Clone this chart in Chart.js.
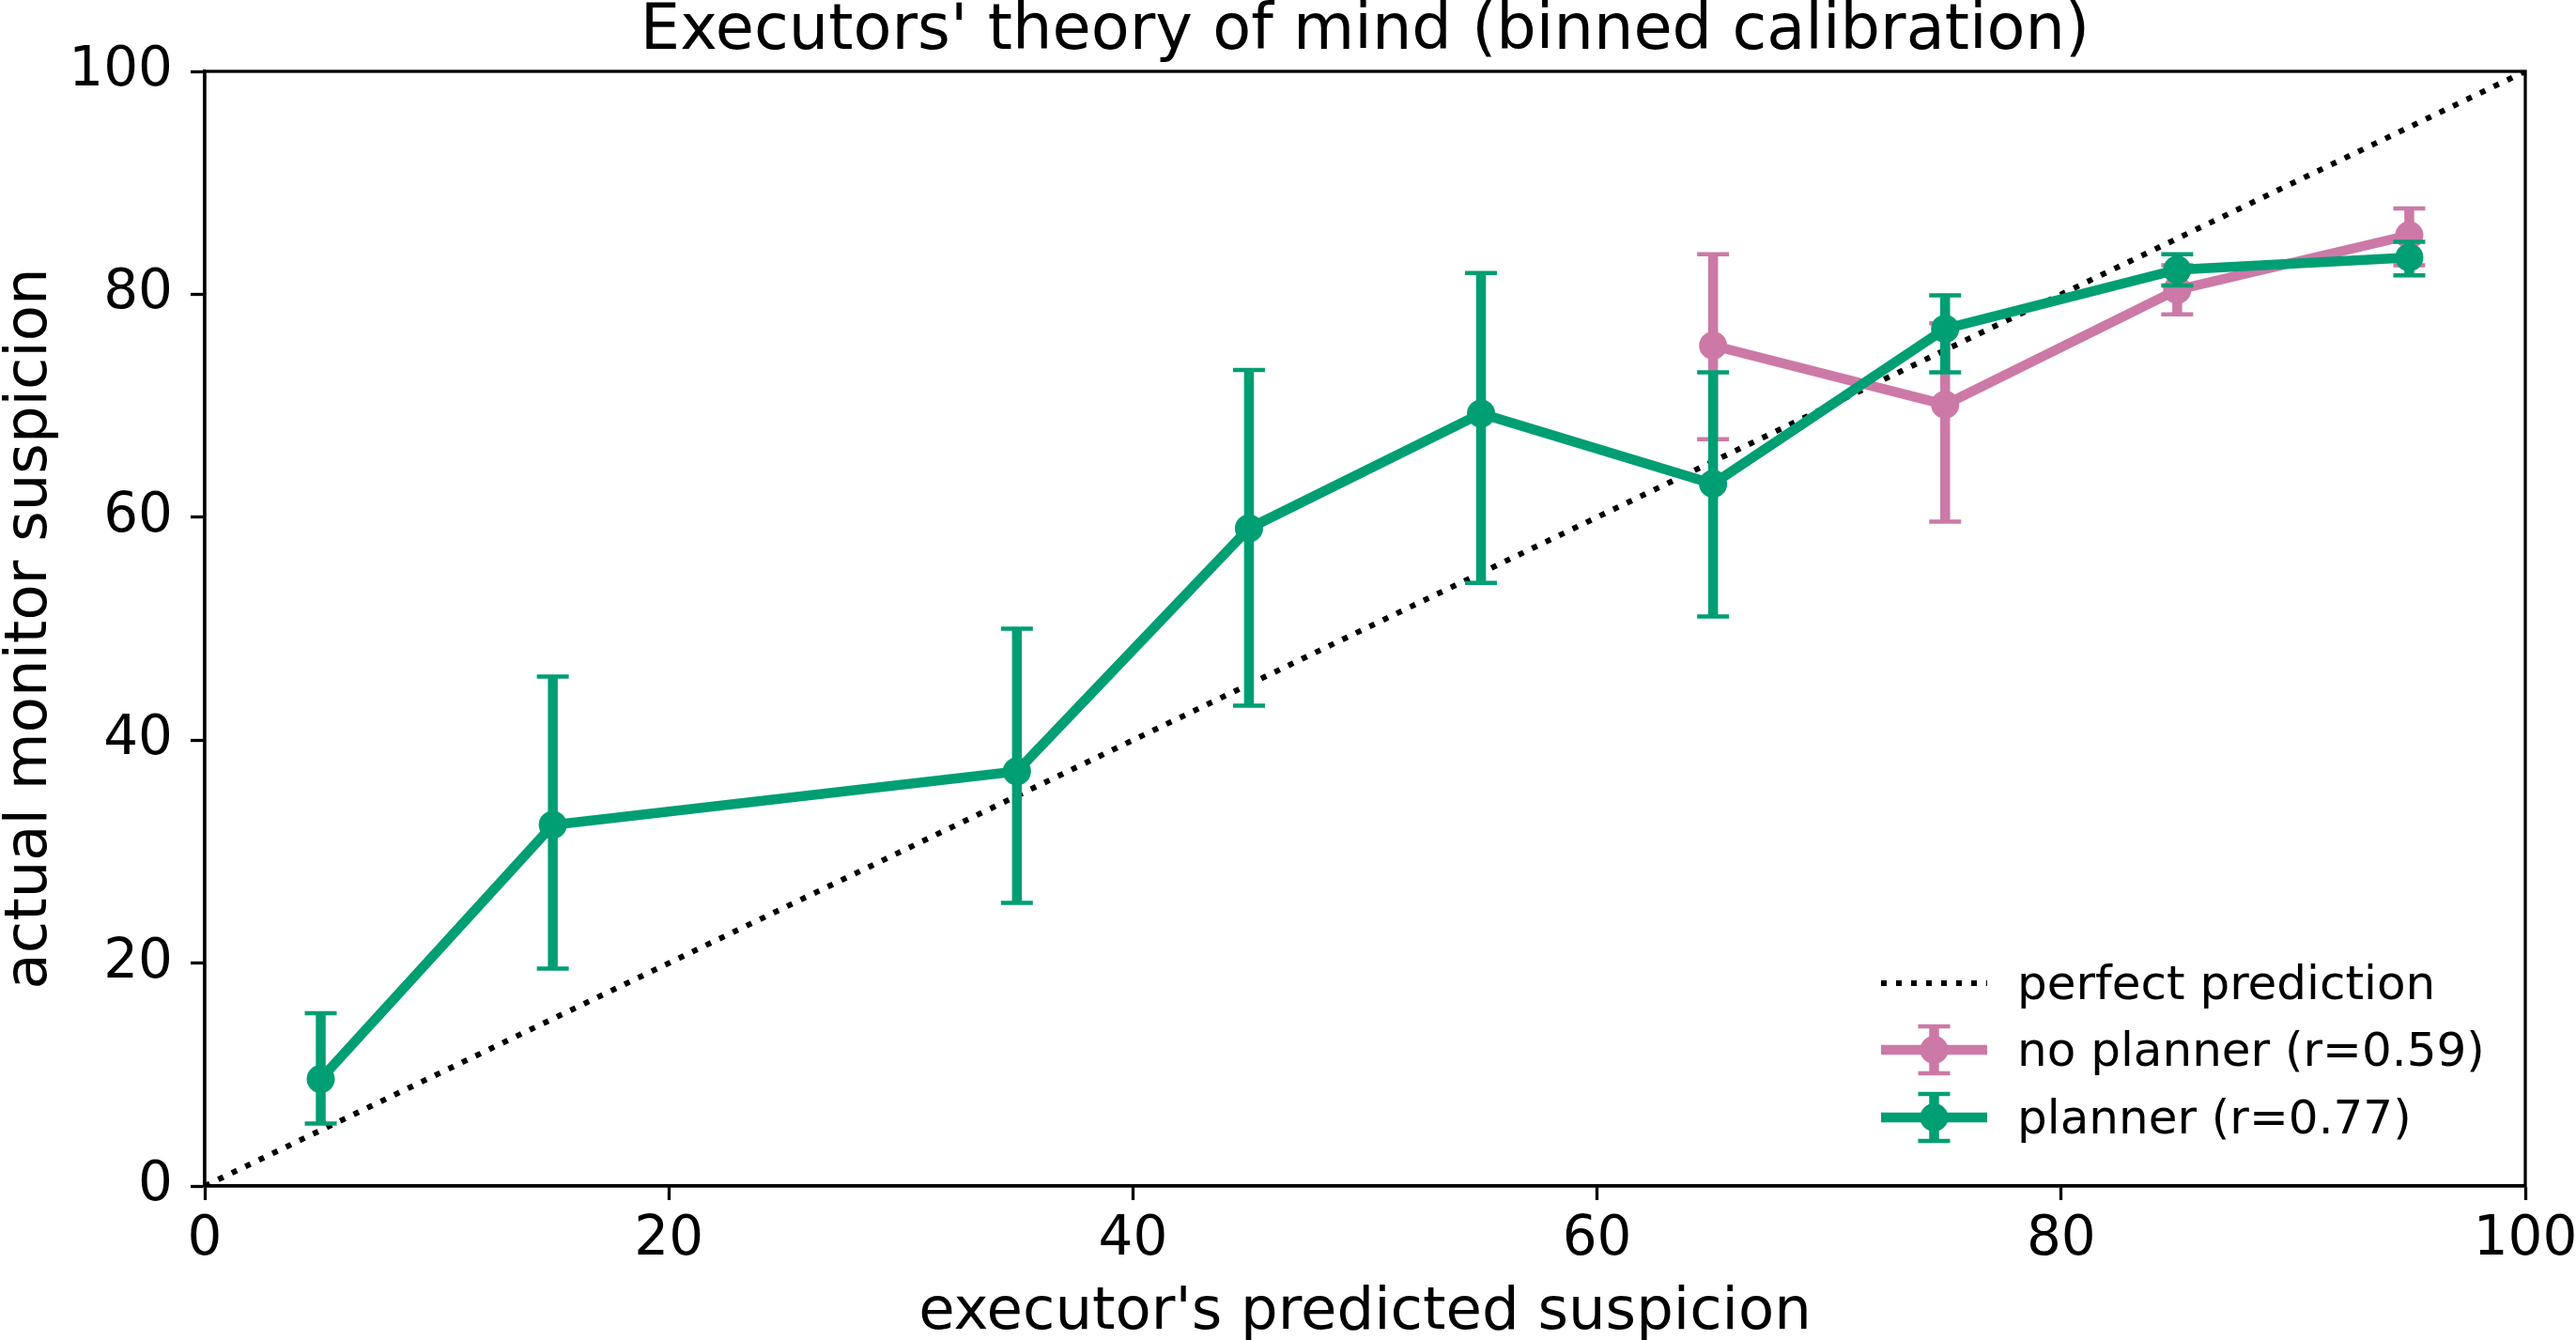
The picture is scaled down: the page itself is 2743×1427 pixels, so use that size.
<!DOCTYPE html>
<html>
<head>
<meta charset="utf-8">
<script src="https://cdn.jsdelivr.net/npm/chart.js@4.4.1/dist/chart.umd.min.js"></script>
<style>
    body { margin: 0; background: #fff; }
    #wrap { width: 2743px; height: 1427px; position: relative; }
</style>
</head>
<body>
<div id="wrap"><canvas id="myChart"></canvas></div>
<script>
// binned calibration data
const plannerBins = [5, 15, 35, 45, 55, 65, 75, 85, 95];
const plannerMean = [9.6, 32.4, 37.2, 59.0, 69.3, 63.0, 76.9, 82.2, 83.3];
const plannerLow = [5.6, 19.5, 25.4, 43.1, 54.1, 51.1, 73.0, 80.8, 81.7];
const plannerHigh = [15.5, 45.7, 50.0, 73.2, 81.9, 73.0, 79.9, 83.6, 84.7];

const noPlannerBins = [65, 75, 85, 95];
const noPlannerMean = [75.4, 70.1, 80.4, 85.3];
const noPlannerLow = [67.0, 59.6, 78.2, 82.6];
const noPlannerHigh = [83.6, 77.4, 82.6, 87.7];

const diagonalX = [0, 100];
const axisTicks = [0, 20, 40, 60, 80, 100];

const legendLabels = ['perfect prediction', 'no planner (r=0.59)', 'planner (r=0.77)'];

const PINK = '#CC79A7';
const GREEN = '#009E73';

function toPoints(xs, ys) {
    const pts = [];
    for (let i = 0; i < xs.length; i++) {
        pts.push({ x: xs[i], y: ys[i] });
    }
    return pts;
}

// error bars per dataset index
const errorBars = {
    0: { color: GREEN, x: plannerBins, low: plannerLow, high: plannerHigh },
    1: { color: PINK, x: noPlannerBins, low: noPlannerLow, high: noPlannerHigh }
};

function drawBar(ctx, x, yTop, yBottom, color) {
    ctx.save();
    ctx.strokeStyle = color;
    ctx.lineCap = 'butt';
    ctx.lineWidth = 10.5;
    ctx.beginPath();
    ctx.moveTo(x, yTop);
    ctx.lineTo(x, yBottom);
    ctx.stroke();
    ctx.lineWidth = 4.5;
    ctx.beginPath();
    ctx.moveTo(x - 17, yTop);
    ctx.lineTo(x + 17, yTop);
    ctx.moveTo(x - 17, yBottom);
    ctx.lineTo(x + 17, yBottom);
    ctx.stroke();
    ctx.restore();
}

const errorBarPlugin = {
    id: 'errorBars',
    beforeDatasetDraw(chart, args) {
        const eb = errorBars[args.index];
        if (!eb) return;
        const xs = chart.scales.x;
        const ys = chart.scales.y;
        for (let i = 0; i < eb.x.length; i++) {
            drawBar(chart.ctx, xs.getPixelForValue(eb.x[i]),
                ys.getPixelForValue(eb.high[i]), ys.getPixelForValue(eb.low[i]), eb.color);
        }
    }
};

const framePlugin = {
    id: 'frame',
    afterDraw(chart) {
        const ctx = chart.ctx;
        const a = chart.chartArea;
        ctx.save();
        ctx.strokeStyle = '#000';
        ctx.lineWidth = 3.3;
        ctx.strokeRect(a.left, a.top, a.right - a.left, a.bottom - a.top);

        // titles
        ctx.fillStyle = '#000';
        ctx.textAlign = 'center';
        ctx.textBaseline = 'alphabetic';
        ctx.font = '67px "DejaVu Sans"';
        const cx = (a.left + a.right) / 2;
        ctx.fillText("Executors' theory of mind (binned calibration)", cx, 52);
        ctx.font = '62.5px "DejaVu Sans"';
        ctx.fillText("executor's predicted suspicion", cx, 1415);
        ctx.save();
        ctx.translate(49, (a.top + a.bottom) / 2);
        ctx.rotate(-Math.PI / 2);
        ctx.fillText('actual monitor suspicion', 0, 0);
        ctx.restore();

        // legend
        const x0 = 2003, x1 = 2116, xm = (x0 + x1) / 2, tx = 2148;
        const rows = [1047, 1118, 1190];
        ctx.font = '50px "DejaVu Sans"';
        ctx.textAlign = 'left';
        ctx.textBaseline = 'middle';

        ctx.strokeStyle = '#000';
        ctx.lineWidth = 6;
        ctx.setLineDash([6, 10]);
        ctx.beginPath();
        ctx.moveTo(x0, rows[0]);
        ctx.lineTo(x1, rows[0]);
        ctx.stroke();
        ctx.setLineDash([]);
        ctx.fillText(legendLabels[0], tx, rows[0] + 4);

        const cols = [PINK, GREEN];
        for (let k = 0; k < 2; k++) {
            const y = rows[k + 1];
            drawBar(ctx, xm, y - 25, y + 25, cols[k]);
            ctx.strokeStyle = cols[k];
            ctx.lineWidth = 10.5;
            ctx.beginPath();
            ctx.moveTo(x0, y);
            ctx.lineTo(x1, y);
            ctx.stroke();
            ctx.fillStyle = cols[k];
            ctx.beginPath();
            ctx.arc(xm, y, 15, 0, Math.PI * 2);
            ctx.fill();
            ctx.fillStyle = '#000';
            ctx.fillText(legendLabels[k + 1], tx, y + 4);
        }
        ctx.restore();
    }
};

Chart.defaults.font.family = '"DejaVu Sans"';
Chart.defaults.color = '#000';

var ctx = document.getElementById('myChart').getContext('2d');
var myChart = new Chart(ctx, {
    type: 'line',
    data: {
        datasets: [{
            label: legendLabels[2],
            data: toPoints(plannerBins, plannerMean),
            borderColor: GREEN,
            backgroundColor: GREEN,
            borderWidth: 10.5,
            pointRadius: 15,
            pointBorderWidth: 0,
            pointBackgroundColor: GREEN,
            tension: 0,
            order: 1
        }, {
            label: legendLabels[1],
            data: toPoints(noPlannerBins, noPlannerMean),
            borderColor: PINK,
            backgroundColor: PINK,
            borderWidth: 10.5,
            pointRadius: 15,
            pointBorderWidth: 0,
            pointBackgroundColor: PINK,
            tension: 0,
            order: 2
        }, {
            label: legendLabels[0],
            data: toPoints(diagonalX, diagonalX),
            borderColor: '#000',
            borderWidth: 6,
            borderDash: [6, 10],
            pointRadius: 0,
            tension: 0,
            order: 3
        }]
    },
    options: {
        responsive: true,
        maintainAspectRatio: false,
        devicePixelRatio: 1,
        animation: false,
        layout: { padding: { top: 76, right: 54, left: 0, bottom: 0 } },
        plugins: {
            legend: { display: false },
            tooltip: { enabled: false }
        },
        scales: {
            x: {
                type: 'linear',
                min: 0,
                max: 100,
                afterBuildTicks: (s) => { s.ticks = axisTicks.map(v => ({ value: v })); },
                afterFit: (s) => { s.height = 164; s.paddingLeft = 0; s.paddingRight = 0; },
                ticks: { font: { size: 58 }, padding: 8, maxRotation: 0 },
                grid: { drawOnChartArea: false, drawTicks: true, tickLength: 15, tickWidth: 3.3, tickColor: '#000' },
                border: { display: true, color: '#000', width: 3.3 }
            },
            y: {
                type: 'linear',
                min: 0,
                max: 100,
                afterBuildTicks: (s) => { s.ticks = axisTicks.map(v => ({ value: v })); },
                afterFit: (s) => { s.width = 218; s.paddingTop = 0; s.paddingBottom = 0; },
                ticks: { font: { size: 58 }, padding: 19 },
                grid: { drawOnChartArea: false, drawTicks: true, tickLength: 15, tickWidth: 3.3, tickColor: '#000' },
                border: { display: true, color: '#000', width: 3.3 }
            }
        }
    },
    plugins: [errorBarPlugin, framePlugin]
});
</script>
</body>
</html>
